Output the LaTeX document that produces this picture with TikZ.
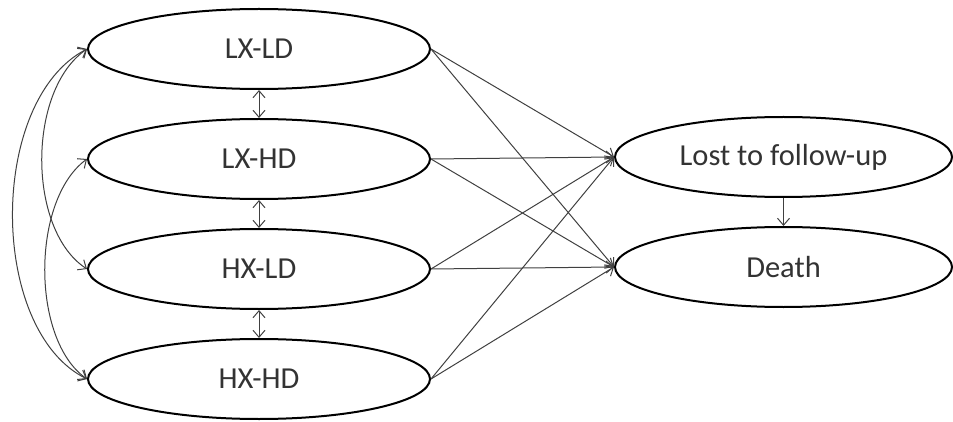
\documentclass[tikz,border=0pt]{standalone}
\usepackage{fontspec}
\setmainfont{Carlito}
\usetikzlibrary{shapes.geometric,arrows.meta}
\tikzset{
  group/.style={ellipse, draw=black, line width=2pt, fill=white,
    minimum width=342pt, minimum height=80pt, inner sep=0pt,
    font=\fontsize{30.5}{34}\selectfont, text=black!80},
  outcome/.style={group, minimum width=337pt},
  link/.style={draw=black!75, line width=1pt,
    -{Straight Barb[length=7pt,width=12pt,line width=1pt]}},
  cov/.style={draw=black!75, line width=1pt,
    {Straight Barb[length=7pt,width=12pt,line width=1pt]}-{Straight Barb[length=7pt,width=12pt,line width=1pt]}}
}
\begin{document}
\begin{tikzpicture}[x=1pt,y=-1pt]
  \useasboundingbox (0,0) rectangle (953,422);
  \begin{scope}
    \clip (0,0) rectangle (953,422);
    % exposure groups
    \node[group] (a) at (259,49)  {LX-LD};
    \node[group] (b) at (259,159) {LX-HD};
    \node[group] (c) at (259,269) {HX-LD};
    \node[group] (d) at (259,379) {HX-HD};
    % outcomes
    \node[outcome] (lost)  at (783.5,157) {Lost to follow-up};
    \node[outcome] (death) at (783.5,267) {Death};
  \end{scope}

  % correlations between neighbouring groups
  \draw[cov] (a.south) -- (b.north);
  \draw[cov] (b.south) -- (c.north);
  \draw[cov] (c.south) -- (d.north);

  % correlations between non-neighbouring groups
  \draw[cov] (a.west) .. controls (-12,100) and (-12,330) .. (d.west);
  \draw[cov] (a.west) .. controls (27,90) and (27,230) .. (c.west);
  \draw[cov] (b.west) .. controls (31,200) and (31,340) .. (d.west);

  % paths to the outcomes
  \foreach \g in {a,b,c,d}{
    \draw[link] (\g.east) -- (lost.west);
    \draw[link] (\g.east) -- (death.west);
  }
  \draw[link] (lost.south) -- (death.north);
\end{tikzpicture}
\end{document}
